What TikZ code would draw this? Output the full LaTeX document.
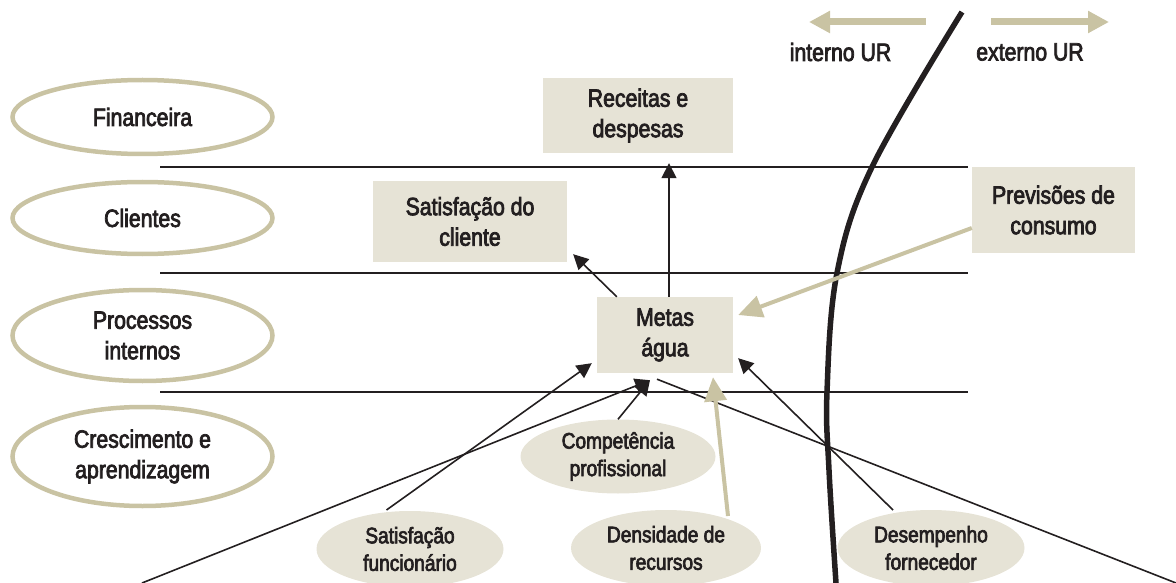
\documentclass[tikz,border=0pt]{standalone}
\usepackage{fontspec}
\setmainfont{Liberation Sans}[FakeStretch=0.85,FakeBold=3]
\usetikzlibrary{arrows.meta,shapes.geometric,calc}
\definecolor{tanline}{RGB}{201,195,163}
\definecolor{boxfill}{RGB}{230,227,214}
\definecolor{ink}{RGB}{35,31,32}
\begin{document}
\begin{tikzpicture}[x=1pt,y=-1pt,
  persp/.style={ellipse, draw=tanline, line width=4.5pt, minimum width=260pt,
    text=ink, font=\fontsize{25}{30.5}\selectfont, align=center, inner sep=0pt},
  goal/.style={rectangle, fill=boxfill, text=ink, font=\fontsize{25}{30.5}\selectfont,
    align=center, inner sep=0pt},
  driver/.style={ellipse, fill=boxfill, text=ink, font=\fontsize{22.5}{27.5}\selectfont,
    align=center, inner sep=0pt, minimum width=190pt, minimum height=76pt},
  lbl/.style={text=ink, font=\fontsize{25}{30}\selectfont, inner sep=0pt},
  arr/.style={-{Triangle[length=15pt,width=15pt]}, line width=1.6pt, draw=ink},
  plain/.style={line width=1.6pt, draw=ink},
  tanarr/.style={-{Triangle[length=24pt,width=22pt]}, line width=4pt, draw=tanline},
  bigtan/.style={-{Triangle[length=21pt,width=21pt]}, line width=7pt, draw=tanline},
  band/.style={line width=1.4pt, draw=ink},
  border/.style={line width=5.5pt, draw=ink}]
\useasboundingbox (0,0) rectangle (1176,583);

% perspective ellipses
\node[persp, minimum height=74pt] (fin) at (142.5,117) {Financeira};
\node[persp, minimum height=72pt] (cli) at (142.5,218) {Clientes};
\node[persp, minimum height=91pt] (proc) at (142.5,335.5) {Processos\\internos};
\node[persp, minimum height=99pt] (cresc) at (142.5,456.5) {Crescimento e\\aprendizagem};

% band lines
\coordinate (b1l) at (160,167); \coordinate (b1r) at (968,167);
\coordinate (b2l) at (160,273); \coordinate (b2r) at (968,273);
\coordinate (b3l) at (160,392); \coordinate (b3r) at (968,392);
\draw[band] (b1l) -- (b1r);
\draw[band] (b2l) -- (b2r);
\draw[band] (b3l) -- (b3r);

% goal boxes
\node[goal, minimum width=190pt, minimum height=75pt] (rec) at (638,115.5) {Receitas e\\despesas};
\node[goal, minimum width=194pt, minimum height=81pt] (sc) at (470,221.5) {Satisfação do\\cliente};
\node[goal, minimum width=136pt, minimum height=76pt] (metas) at (665,335) {Metas\\água};
\node[goal, minimum width=163pt, minimum height=86pt] (prev) at (1053.5,210) {Previsões de\\consumo};

% drivers
\node[driver, minimum width=195pt, minimum height=74pt] (comp) at (618,456.5) {Competência\\profissional};
\node[driver, minimum width=187pt] (sf) at (410,549) {Satisfação\\funcionário};
\node[driver] (dens) at (666,548) {Densidade de\\recursos};
\node[driver, minimum width=187pt] (desemp) at (931,548) {Desempenho\\fornecedor};

% boundary curve
\draw[border] plot[smooth, tension=0.6] coordinates {(962,12) (872,167) (837,273) (827,392) (829,470) (836,583)};

% top labels and arrows
\node[lbl] (int) at (840.5,52) {interno UR};
\node[lbl] (ext) at (1030,52) {externo UR};
\coordinate (la1) at (926,22); \coordinate (la2) at (809,22);
\coordinate (ra1) at (991,22); \coordinate (ra2) at (1109,22);
\draw[bigtan] (la1) -- (la2);
\draw[bigtan] (ra1) -- (ra2);

% connectors
\draw[arr] ($(metas.north)+(4,0)$) -- ($(rec.south)+(31,10)$);
\draw[arr] ($(metas.north west)+(20,0)$) -- ($(sc.south east)+(6,-8)$);
\draw[tanarr] ($(prev.west)+(0,18)$) -- ($(metas.east)+(5,-20)$);

\coordinate (fl) at (142,583);
\coordinate (fr) at (1176,583);
\draw[plain] (fr) -- ($(metas.south)+(-8,6)$);
\draw[arr] (fl) -- ($(metas.south)+(-15,7)$);
\draw[arr] (comp.north) -- ($(metas.south)+(-15,7)$);
\draw[arr] ($(sf.center)+(-23.5,-39)$) -- ($(metas.south west)+(-5,-10)$);
\draw[tanarr] ($(dens.center)+(62,-32)$) -- ($(metas.south)+(48,4)$);
\draw[arr] ($(desemp.center)+(-38,-38)$) -- ($(metas.south east)+(5,-15)$);
\end{tikzpicture}
\end{document}
